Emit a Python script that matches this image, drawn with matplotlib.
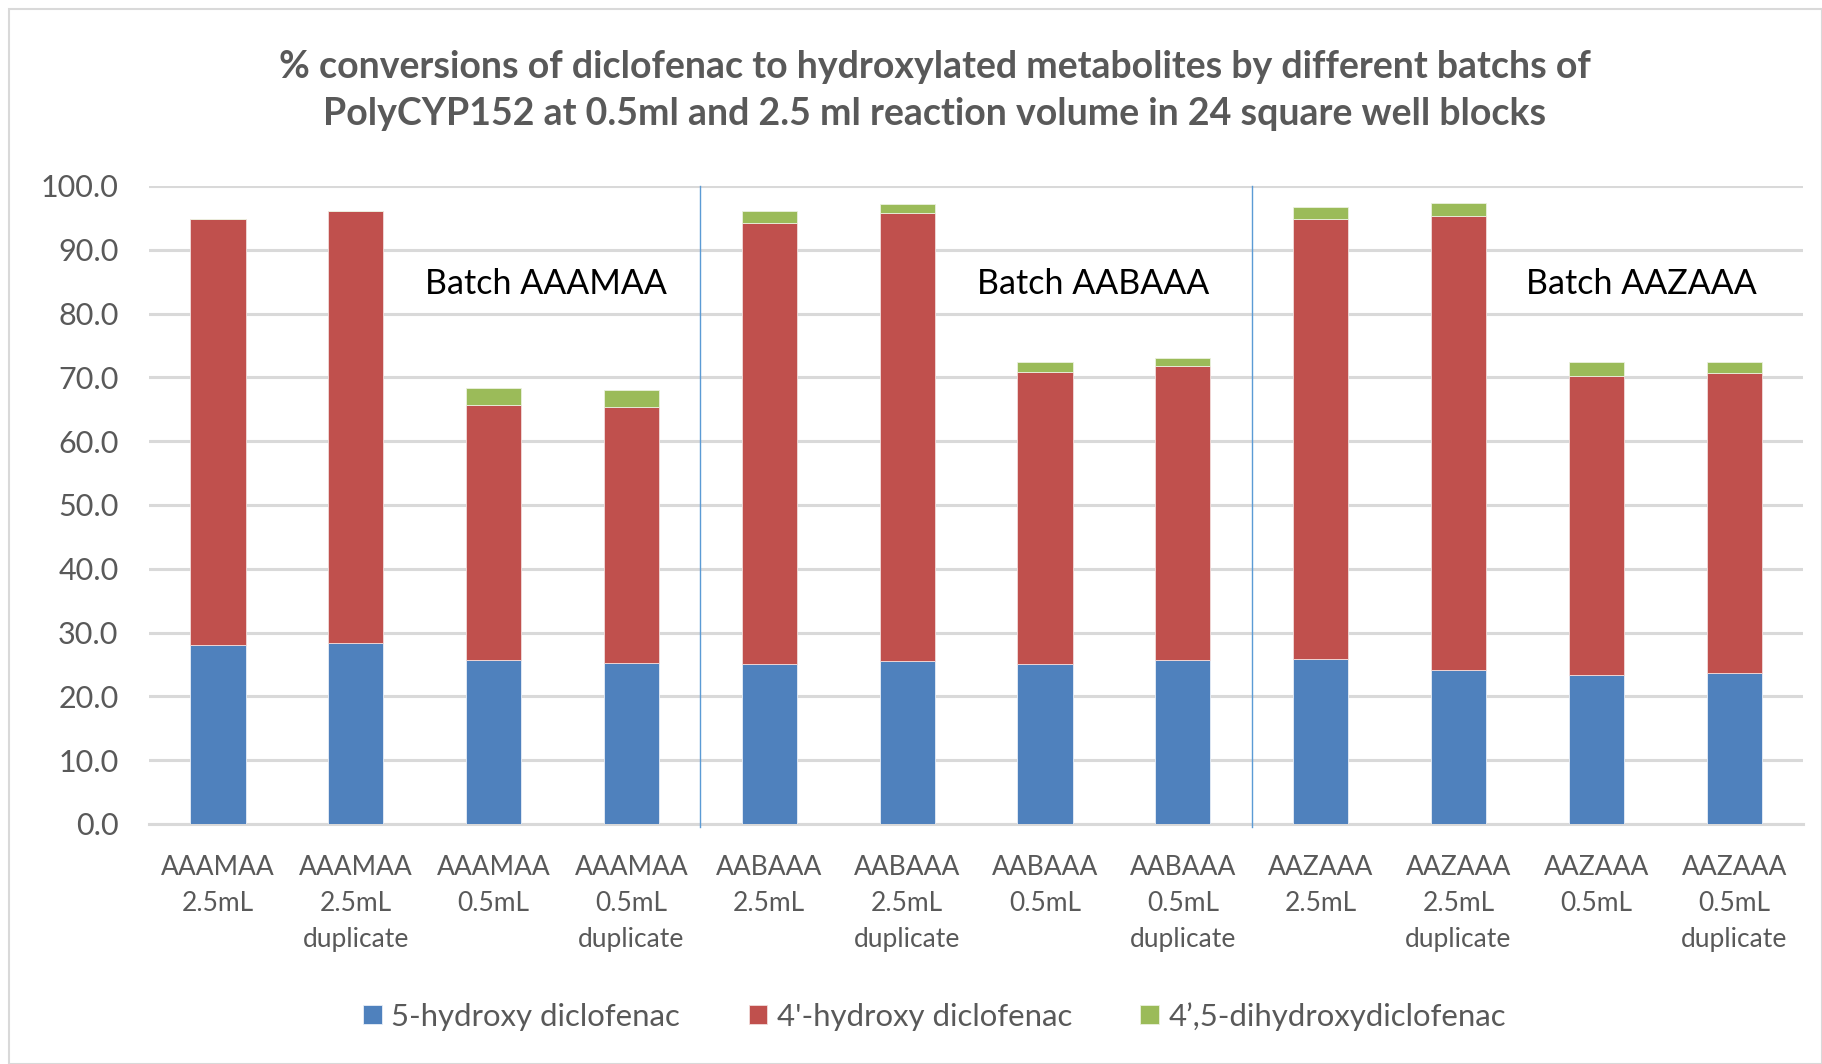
import matplotlib.pyplot as plt
from matplotlib.patches import Rectangle
import numpy as np

plt.rcParams['font.family'] = ['Lato', 'DejaVu Sans']

categories = [
    'AAAMAA\n2.5mL', 'AAAMAA\n2.5mL\nduplicate', 'AAAMAA\n0.5mL', 'AAAMAA\n0.5mL\nduplicate',
    'AABAAA\n2.5mL', 'AABAAA\n2.5mL\nduplicate', 'AABAAA\n0.5mL', 'AABAAA\n0.5mL\nduplicate',
    'AAZAAA\n2.5mL', 'AAZAAA\n2.5mL\nduplicate', 'AAZAAA\n0.5mL', 'AAZAAA\n0.5mL\nduplicate',
]
hydroxy_5 = [28.0, 28.3, 25.7, 25.2, 25.1, 25.5, 25.1, 25.7, 25.8, 24.2, 23.3, 23.7]
hydroxy_4 = [66.9, 67.8, 40.0, 40.1, 69.1, 70.3, 45.8, 46.1, 69.1, 71.1, 46.9, 47.0]
dihydroxy = [0.0, 0.0, 2.6, 2.8, 1.9, 1.3, 1.5, 1.2, 1.8, 2.0, 2.2, 1.7]
batches = ['Batch AAAMAA', 'Batch AABAAA', 'Batch AAZAAA']
series_names = ['5-hydroxy diclofenac', "4'-hydroxy diclofenac", '4\u2019,5-dihydroxydiclofenac']

BLUE = '#4F81BD'
RED = '#C0504D'
GREEN = '#9BBB59'
GREY = '#595959'

fig = plt.figure(figsize=(18.22, 10.64), dpi=100)
ax = fig.add_axes([0.0818, 0.2256, 0.9078, 0.5996])

x = np.arange(len(categories))
h5 = np.array(hydroxy_5)
h4 = np.array(hydroxy_4)
dh = np.array(dihydroxy)
w = 0.40
ax.bar(x, h5, w, color=BLUE, edgecolor='#E8EEF7', linewidth=0.6, label=series_names[0], zorder=3)
ax.bar(x, h4, w, bottom=h5, color=RED, edgecolor='#F2DCDB', linewidth=0.6, label=series_names[1], zorder=3)
ax.bar(x, dh, w, bottom=h5 + h4, color=GREEN, edgecolor='#EBF1DE', linewidth=0.6, label=series_names[2], zorder=3)

ax.set_xlim(-0.5, len(categories) - 0.5)
ax.set_ylim(0, 100)
ax.set_yticks(np.arange(0, 101, 10))
ax.set_yticklabels([f'{v:.1f}' for v in np.arange(0, 101, 10)])
ax.yaxis.grid(True, color='#D9D9D9', linewidth=2.2, zorder=0)
ax.set_axisbelow(True)
for s in ['top', 'right', 'left']:
    ax.spines[s].set_visible(False)
ax.spines['bottom'].set_color('#D9D9D9')
ax.spines['bottom'].set_linewidth(2.2)
ax.tick_params(axis='both', length=0, colors=GREY)
ax.tick_params(axis='y', pad=22, labelsize=22)
ax.tick_params(axis='x', pad=22, labelsize=19)
ax.set_xticks(x)
ax.set_xticklabels(categories, linespacing=1.55, va='top')

# batch separators
for xs in [3.5, 7.5]:
    ax.axvline(xs, ymin=-0.004, ymax=1.0, color='#5B9BD5', linewidth=1.0, zorder=4, clip_on=False)

batch_x = [2.38, 6.35, 10.33]
for bx, name in zip(batch_x, batches):
    ax.text(bx, 84.7, name, ha='center', va='center', fontsize=24.5, color='black')

fig.text(0.513, 0.915, '% conversions of diclofenac to hydroxylated metabolites by different batchs of\n'
         'PolyCYP152 at 0.5ml and 2.5 ml reaction volume in 24 square well blocks',
         ha='center', va='center', fontsize=27, fontweight='bold', color=GREY, linespacing=1.45)

fig.legend(loc='center', bbox_to_anchor=(0.513, 0.045), ncol=3, frameon=False,
           fontsize=22.4, labelcolor=GREY, handlelength=0.6, handleheight=0.6,
           handletextpad=0.3, columnspacing=2.2)

fig.patches.append(Rectangle((0.005, 0.0), 0.995, 0.992, transform=fig.transFigure,
                             fill=False, edgecolor='#D9D9D9', linewidth=1.5))

fig.savefig('out.png', dpi=100)
